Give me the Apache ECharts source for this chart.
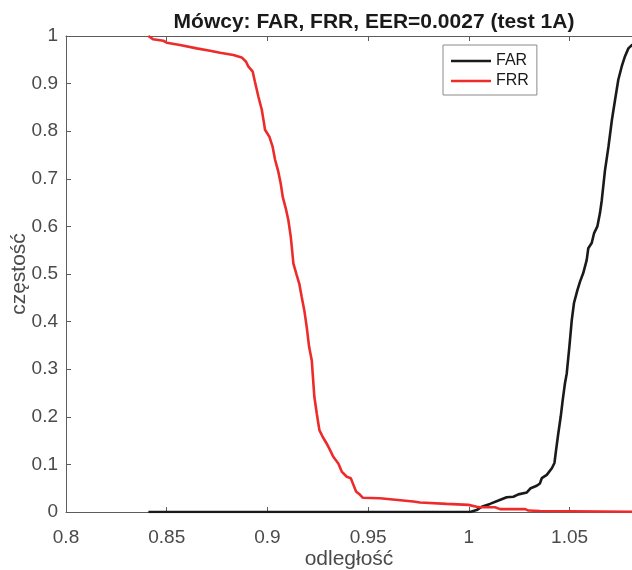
<!DOCTYPE html>
<html>
<head>
<meta charset="utf-8">
<script src="https://cdn.jsdelivr.net/npm/echarts@6/dist/echarts.min.js"></script>
<style>
  html, body { margin: 0; padding: 0; background: #fff; }
  #chart { width: 632px; height: 570px; }
</style>
</head>
<body>
<div id="chart"></div>
<script>
// False acceptance rate: distance thresholds and rates
const farX = [0.8409, 1.0006, 1.0039, 1.0064, 1.0105, 1.0147, 1.0188, 1.0221, 1.0246, 1.0288,
  1.0307, 1.0337, 1.0353, 1.0362, 1.0387, 1.0412, 1.0425, 1.0433, 1.0444, 1.0456,
  1.0466, 1.0477, 1.0486, 1.0499, 1.0511, 1.0522, 1.0539, 1.0552, 1.0568, 1.0585,
  1.0593, 1.0610, 1.0622, 1.0638, 1.0651, 1.0660, 1.0676, 1.0693, 1.0710, 1.0726,
  1.0742, 1.0759, 1.0775, 1.0792, 1.0810, 1.0900];
const farY = [0, 0, 0.004, 0.011, 0.017, 0.024, 0.031, 0.032, 0.037, 0.041,
  0.050, 0.055, 0.060, 0.071, 0.078, 0.092, 0.103, 0.130, 0.165, 0.200,
  0.235, 0.270, 0.291, 0.347, 0.403, 0.439, 0.466, 0.484, 0.502, 0.529,
  0.554, 0.565, 0.586, 0.600, 0.628, 0.655, 0.718, 0.767, 0.823, 0.866,
  0.908, 0.936, 0.957, 0.974, 0.981, 1.000];

// False rejection rate: distance thresholds and rates
const frrX = [0.8409, 0.8433, 0.8483, 0.8500, 0.8566, 0.8649, 0.8715, 0.8765, 0.8831, 0.8872,
  0.8894, 0.8905, 0.8927, 0.8938, 0.8955, 0.8972, 0.8983, 0.8988, 0.9010, 0.9026,
  0.9038, 0.9054, 0.9066, 0.9076, 0.9091, 0.9104, 0.9116, 0.9129, 0.9145, 0.9158,
  0.9170, 0.9183, 0.9195, 0.9207, 0.9220, 0.9233, 0.9245, 0.9258, 0.9274, 0.9294,
  0.9311, 0.9327, 0.9352, 0.9369, 0.9394, 0.9414, 0.9427, 0.9440, 0.9460, 0.9473,
  0.9559, 0.9724, 0.9758, 0.9890, 0.9998, 1.0039, 1.0056, 1.0130, 1.0155, 1.0280,
  1.0296, 1.0353, 1.0362, 1.1000];
const frrY = [1.000, 0.993, 0.990, 0.986, 0.981, 0.974, 0.969, 0.965, 0.960, 0.955,
  0.946, 0.936, 0.925, 0.904, 0.873, 0.845, 0.817, 0.803, 0.788, 0.767,
  0.740, 0.715, 0.690, 0.662, 0.638, 0.613, 0.578, 0.522, 0.498, 0.480,
  0.452, 0.424, 0.389, 0.347, 0.319, 0.242, 0.207, 0.172, 0.158, 0.144,
  0.130, 0.116, 0.102, 0.085, 0.074, 0.071, 0.057, 0.043, 0.036, 0.030,
  0.029, 0.022, 0.020, 0.017, 0.015, 0.011, 0.010, 0.010, 0.006, 0.006,
  0.003, 0.002, 0, 0];

const seriesNames = ['FAR', 'FRR'];
const seriesColors = ['#1a1a1a', '#ee2b2b'];
const titleText = 'Mówcy: FAR, FRR, EER=0.0027 (test 1A)';
const xName = 'odległość';
const yName = 'częstość';

const zip = (xs, ys) => xs.map((x, i) => [x, ys[i]]);

const font = '"Liberation Sans", Arial, Helvetica, sans-serif';
const axisGray = '#5c5c5c';
const labelGray = '#4a4a4a';

const chart = echarts.init(document.getElementById('chart'), null, { renderer: 'canvas' });

// visible window of the distance axis ends at the right edge of the figure
const xMin = 0.8;
const xMax = 1.081;

const xCommon = {
  type: 'value',
  min: xMin,
  max: xMax,
  interval: 0.05,
  axisLine: { show: true, onZero: false, lineStyle: { color: axisGray, width: 1 } },
  axisTick: { show: true, inside: true, length: 5, lineStyle: { color: axisGray } },
  splitLine: { show: false }
};

chart.setOption({
  animation: false,
  backgroundColor: '#fff',
  title: {
    text: titleText,
    left: 369,
    textAlign: 'center',
    top: 7,
    textStyle: { fontFamily: font, fontSize: 21, fontWeight: 'bold', color: '#1a1a1a' }
  },
  legend: {
    orient: 'vertical',
    left: 443,
    top: 45,
    icon: 'rect',
    itemWidth: 40,
    itemHeight: 2.5,
    itemGap: 4,
    padding: [8, 8, 6, 8],
    borderColor: '#8a8a8a',
    borderWidth: 1,
    borderRadius: 0,
    backgroundColor: '#fff',
    data: seriesNames,
    textStyle: { fontFamily: font, fontSize: 16, lineHeight: 16, color: '#1a1a1a' }
  },
  grid: {
    left: 66, top: 36, right: 0, bottom: 58,
    containLabel: false,
    outerBoundsMode: 'none'
  },
  xAxis: [
    Object.assign({}, xCommon, {
      position: 'bottom',
      name: xName,
      nameLocation: 'middle',
      nameGap: 37,
      nameMoveOverlap: false,
      nameTextStyle: { fontFamily: font, fontSize: 21, color: labelGray },
      axisLabel: {
        show: true, margin: 16, showMaxLabel: false,
        fontFamily: font, fontSize: 19, color: labelGray,
        formatter: v => String(parseFloat(v.toFixed(2)))
      }
    }),
    Object.assign({}, xCommon, {
      position: 'top',
      axisLabel: { show: false }
    })
  ],
  yAxis: {
    type: 'value',
    min: 0,
    max: 1,
    interval: 0.1,
    name: yName,
    nameLocation: 'middle',
    nameGap: 36,
    nameMoveOverlap: false,
    nameTextStyle: { fontFamily: font, fontSize: 21, color: labelGray },
    axisLine: { show: true, onZero: false, lineStyle: { color: axisGray, width: 1 } },
    axisTick: { show: true, inside: true, length: 5, lineStyle: { color: axisGray } },
    splitLine: { show: false },
    axisLabel: {
      margin: 8, fontFamily: font, fontSize: 19, color: labelGray,
      formatter: v => String(parseFloat(v.toFixed(1)))
    }
  },
  series: [
    {
      name: seriesNames[0],
      type: 'line',
      xAxisIndex: 0,
      data: zip(farX, farY),
      showSymbol: false,
      symbol: 'none',
      color: seriesColors[0],
      lineStyle: { color: seriesColors[0], width: 2.6 },
      clip: true
    },
    {
      name: seriesNames[1],
      type: 'line',
      xAxisIndex: 0,
      data: zip(frrX, frrY),
      showSymbol: false,
      symbol: 'none',
      color: seriesColors[1],
      lineStyle: { color: seriesColors[1], width: 2.6 },
      clip: true
    }
  ]
});
</script>
</body>
</html>
